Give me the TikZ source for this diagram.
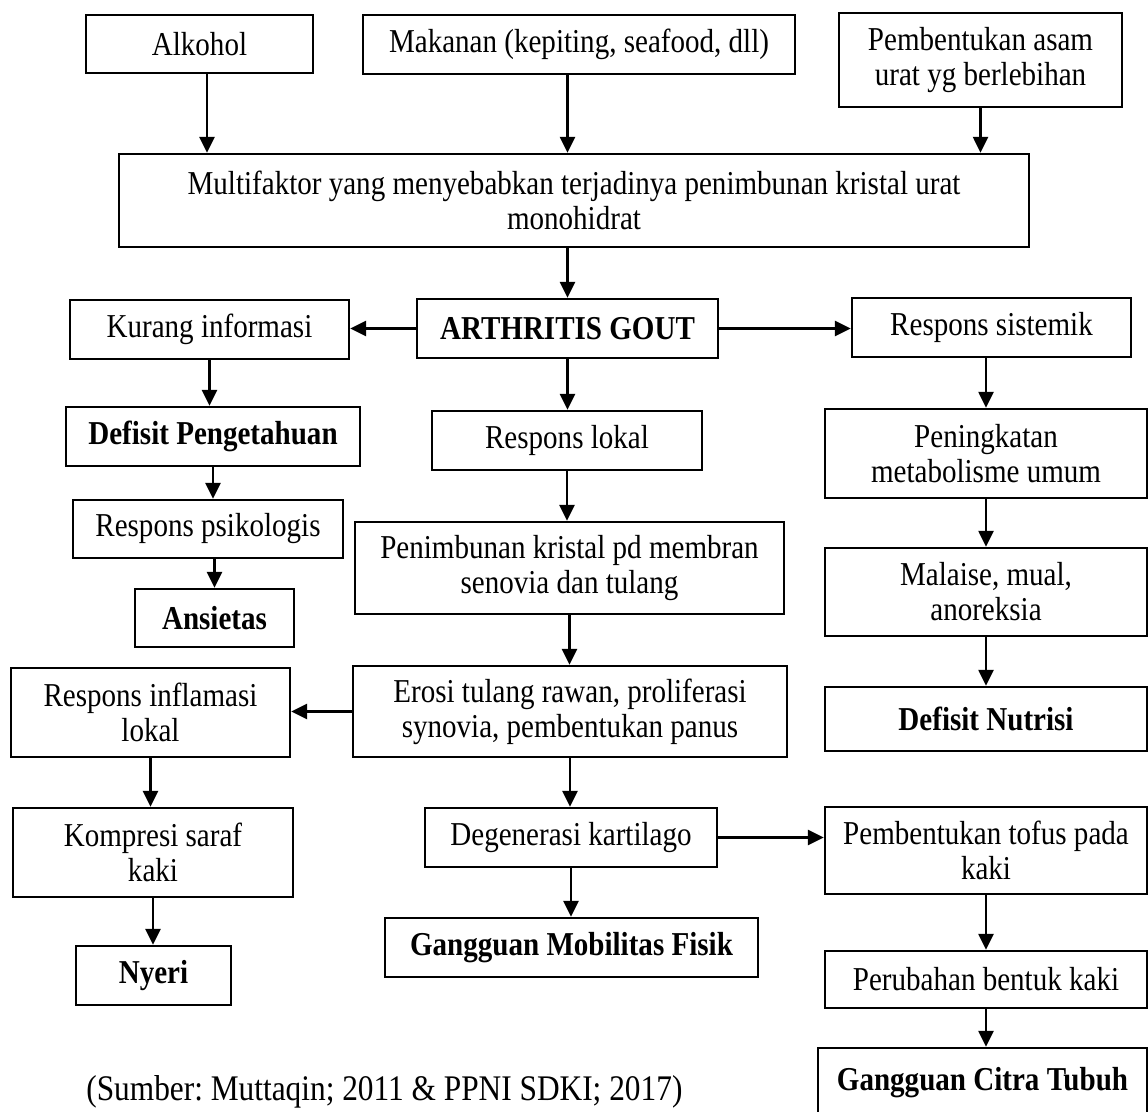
\documentclass[tikz,border=0pt]{standalone}
\usepackage{fontspec}
\setmainfont{Liberation Serif}[FakeStretch=0.87]
\usetikzlibrary{arrows.meta}
\frenchspacing

\begin{document}
\begin{tikzpicture}[x=1.0cm,y=1.0cm,>={Triangle[length=9pt,width=8.5pt]},
  box/.style={draw,line width=1.4pt,align=center,inner sep=2pt,font=\fontsize{19}{20}\selectfont},
  diag/.style={box,font=\fontsize{19}{20}\selectfont\bfseries},
  arr/.style={->,line width=1.3pt}]
\useasboundingbox (0,0) rectangle (22.96,22.22);
\node[box,minimum width=4.54cm,minimum height=1.16cm] (alk) at (3.99,21.34) {Alkohol};
\node[box,minimum width=8.64cm,minimum height=1.18cm] (mak) at (11.58,21.33) {Makanan (kepiting, seafood, dll)};
\node[box,minimum width=5.66cm,minimum height=1.88cm] (asam) at (19.61,21.02) {Pembentukan asam\\urat yg berlebihan};
\node[box,minimum width=18.2cm,minimum height=1.86cm] (multi) at (11.48,18.21) {Multifaktor yang menyebabkan terjadinya penimbunan kristal urat\\monohidrat};
\node[diag,minimum width=6.02cm,minimum height=1.18cm] (gout) at (11.35,15.65) {ARTHRITIS GOUT};
\node[box,minimum width=5.58cm,minimum height=1.18cm] (kurang) at (4.19,15.63) {Kurang informasi};
\node[box,minimum width=5.58cm,minimum height=1.18cm] (sistemik) at (19.83,15.67) {Respons sistemik};
\node[diag,minimum width=5.88cm,minimum height=1.18cm] (defp) at (4.26,13.49) {Defisit Pengetahuan};
\node[box,minimum width=5.4cm,minimum height=1.18cm] (lokal) at (11.34,13.41) {Respons lokal};
\node[box,minimum width=6.44cm,minimum height=1.78cm] (metab) at (19.72,13.15) {Peningkatan\\metabolisme umum};
\node[box,minimum width=5.4cm,minimum height=1.16cm] (psiko) at (4.16,11.64) {Respons psikologis};
\node[diag,minimum width=3.18cm,minimum height=1.16cm] (ansietas) at (4.29,9.86) {Ansietas};
\node[box,minimum width=8.58cm,minimum height=1.84cm] (timbun) at (11.39,10.86) {Penimbunan kristal pd membran\\senovia dan tulang};
\node[box,minimum width=6.44cm,minimum height=1.76cm] (malaise) at (19.72,10.38) {Malaise, mual,\\anoreksia};
\node[box,minimum width=5.58cm,minimum height=1.78cm] (inflamasi) at (3.01,7.97) {Respons inflamasi\\lokal};
\node[box,minimum width=8.68cm,minimum height=1.82cm] (erosi) at (11.4,7.99) {Erosi tulang rawan, proliferasi\\synovia, pembentukan panus};
\node[diag,minimum width=6.44cm,minimum height=1.28cm] (nutrisi) at (19.72,7.84) {Defisit Nutrisi};
\node[box,minimum width=5.6cm,minimum height=1.78cm] (kompresi) at (3.06,5.17) {Kompresi saraf\\kaki};
\node[box,minimum width=5.84cm,minimum height=1.18cm] (degen) at (11.42,5.47) {Degenerasi kartilago};
\node[box,minimum width=6.44cm,minimum height=1.74cm] (tofus) at (19.72,5.21) {Pembentukan tofus pada\\kaki};
\node[diag,minimum width=3.1cm,minimum height=1.18cm] (nyeri) at (3.07,2.71) {Nyeri};
\node[diag,minimum width=7.46cm,minimum height=1.18cm] (mobil) at (11.43,3.27) {Gangguan Mobilitas Fisik};
\node[box,minimum width=6.44cm,minimum height=1.14cm] (bentuk) at (19.72,2.63) {Perubahan bentuk kaki};
\node[diag,minimum width=6.58cm,minimum height=1.4cm] (citra) at (19.65,0.56) {Gangguan Citra Tubuh};
\node[anchor=west,inner sep=0pt,font=\fontsize{20.5}{22}\selectfont] (sumber) at (1.72,0.38) {(Sumber: Muttaqin; 2011 \& PPNI SDKI; 2017)};
\draw[arr] ([xshift=0.15cm]alk.south) -- ([xshift=0.15cm]alk.south |- multi.north);
\draw[arr] (mak.south -| gout) -- (multi.north -| gout);
\draw[arr] (asam.south) -- (asam.south |- multi.north);
\draw[arr] (multi.south -| gout) -- (gout.north);
\draw[arr] (gout.west) -- (gout.west -| kurang.east);
\draw[arr] (gout.east) -- (gout.east -| sistemik.west);
\draw[arr] (gout.south) -- (gout.south |- lokal.north);
\draw[arr] (kurang.south) -- (kurang.south |- defp.north);
\draw[arr] (defp.south) -- (defp.south |- psiko.north);
\draw[arr] (ansietas.north |- psiko.south) -- (ansietas.north);
\draw[arr] (metab.north |- sistemik.south) -- (metab.north);
\draw[arr] (metab) -- (malaise);
\draw[arr] (malaise) -- (nutrisi);
\draw[arr] (lokal.south) -- (lokal.south |- timbun.north);
\draw[arr] (timbun.south) -- (timbun.south |- erosi.north);
\draw[arr] (erosi.west) -- (erosi.west -| inflamasi.east);
\draw[arr] (erosi.south) -- (erosi.south |- degen.north);
\draw[arr] (degen.south) -- (degen.south |- mobil.north);
\draw[arr] (degen.east) -- (degen.east -| tofus.west);
\draw[arr] (inflamasi.south) -- (inflamasi.south |- kompresi.north);
\draw[arr] (kompresi.south) -- (kompresi.south |- nyeri.north);
\draw[arr] (tofus) -- (bentuk);
\draw[arr] (bentuk.south) -- (bentuk.south |- citra.north);
\end{tikzpicture}
\end{document}
